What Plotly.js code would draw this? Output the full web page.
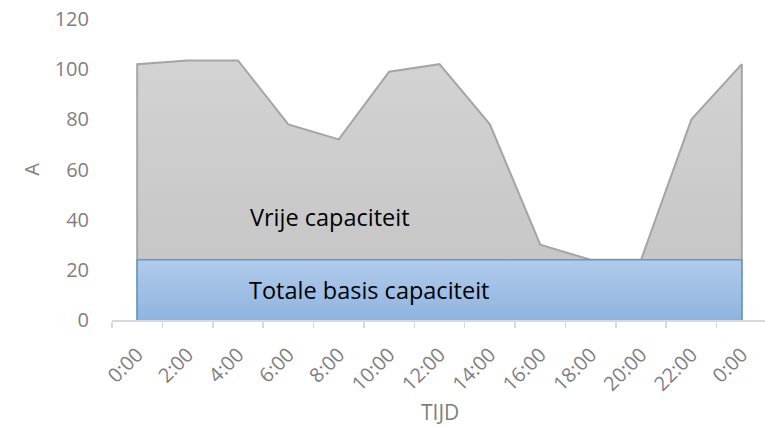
<!DOCTYPE html>
<html>
<head>
<meta charset="utf-8">
<script src="https://cdn.plot.ly/plotly-3.0.1.min.js"></script>
<style>html,body{margin:0;padding:0;background:#fff;}#chart{width:765px;height:428px;}</style>
</head>
<body>
<div id="chart"></div>
<script>
var tijdLabels = ["0:00","2:00","4:00","6:00","8:00","10:00","12:00","14:00","16:00","18:00","20:00","22:00","0:00"];
var totaleCapaciteit = [102, 103.5, 103.5, 78, 72, 99, 102, 78, 30, 24, 24, 80, 102];
var basisCapaciteit = [24, 24, 24, 24, 24, 24, 24, 24, 24, 24, 24, 24, 24];
var yTicks = [0, 20, 40, 60, 80, 100, 120];

var idx = tijdLabels.map(function(_, i){ return i; });
var last = idx.length - 1;
var boundaries = idx.map(function(i){ return i - 0.5; }).concat([last + 0.5]);

var FONT = "Open Sans, Calibri, sans-serif";
var GREY_TXT = "#7f7f7f";

var gray = {
  x: [0].concat(idx, [last]),
  y: [0].concat(totaleCapaciteit, [0]),
  type: "scatter", mode: "lines", fill: "toself",
  line: {color: "#a5a5a5", width: 2},
  fillcolor: "#cbcbcb",
  fillgradient: {type: "vertical", colorscale: [[0, "#c3c3c3"], [1, "#d3d3d3"]]},
  hoverinfo: "skip", showlegend: false, name: "Vrije capaciteit"
};
var blue = {
  x: [0].concat(idx, [last]),
  y: [0].concat(basisCapaciteit, [0]),
  type: "scatter", mode: "lines", fill: "toself",
  line: {color: "#5b9bd5", width: 1.5},
  fillcolor: "#a2c0e6",
  fillgradient: {type: "vertical", colorscale: [[0, "#8fb4e1"], [1, "#b1cbea"]]},
  hoverinfo: "skip", showlegend: false, name: "Totale basis capaciteit"
};

var layout = {
  width: 765, height: 428,
  margin: {l: 112, r: 0, t: 19, b: 108},
  paper_bgcolor: "#fff", plot_bgcolor: "#fff",
  showlegend: false,
  xaxis: {
    range: [-0.5, 12.46], showgrid: false, zeroline: false,
    showline: true, linecolor: "#d9d9d9", linewidth: 1.5,
    tickmode: "array", tickvals: boundaries, showticklabels: false,
    ticks: "outside", ticklen: 6, tickcolor: "#d9d9d9", tickwidth: 1.5
  },
  xaxis2: {
    overlaying: "x", anchor: "y", side: "bottom", matching: "x",
    range: [-0.5, 12.46], showgrid: false, zeroline: false, showline: false,
    tickmode: "array", tickvals: idx, ticktext: tijdLabels, tickangle: -45,
    ticks: "", ticklabelstandoff: 18,
    tickfont: {family: FONT, size: 20, color: GREY_TXT}
  },
  yaxis: {
    range: [0, 120], showgrid: false, zeroline: false, showline: false,
    tickmode: "array", tickvals: yTicks, ticks: "", ticklabelstandoff: 22,
    tickfont: {family: FONT, size: 20, color: GREY_TXT},
    title: {text: "A", font: {family: FONT, size: 20, color: GREY_TXT}, standoff: 9}
  },
  annotations: [
    {xref: "paper", yref: "paper", x: 0.503, y: -0.306, xanchor: "center", yanchor: "middle",
     text: "TIJD", showarrow: false, font: {family: FONT, size: 21, color: GREY_TXT}},
    {xref: "paper", yref: "paper", x: 0.209, y: 0.342, xanchor: "left", yanchor: "middle",
     text: "Vrije capaciteit", showarrow: false, font: {family: FONT, size: 23.5, color: "#000"}},
    {xref: "paper", yref: "paper", x: 0.206, y: 0.1, xanchor: "left", yanchor: "middle",
     text: "Totale basis capaciteit", showarrow: false, font: {family: FONT, size: 23.5, color: "#000"}}
  ]
};

var dummy = {x: [0], y: [0], xaxis: "x2", type: "scatter", mode: "markers",
  marker: {opacity: 0}, hoverinfo: "skip", showlegend: false};

Plotly.newPlot("chart", [gray, blue, dummy], layout, {staticPlot: true, displayModeBar: false});
</script>
</body>
</html>
